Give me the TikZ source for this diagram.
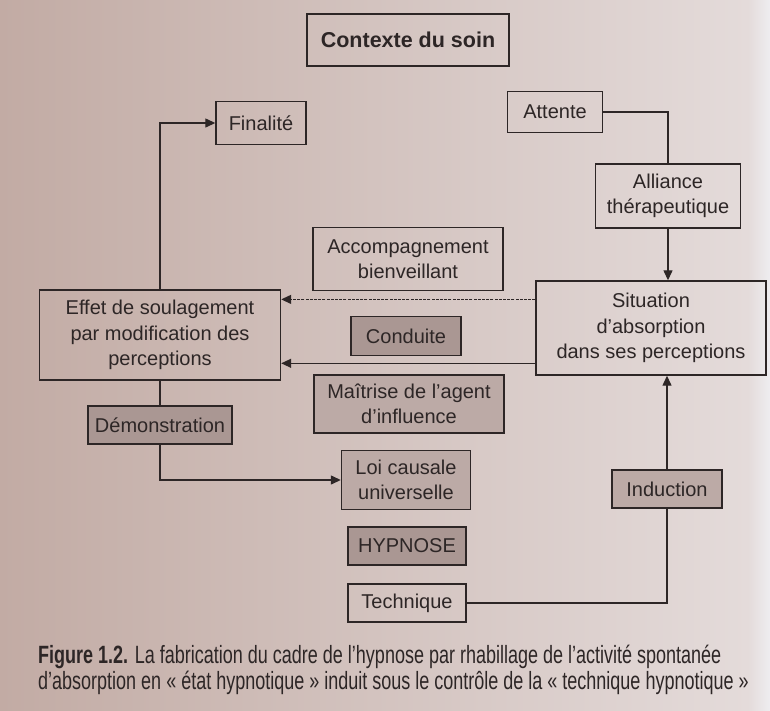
\documentclass[tikz,border=0pt]{standalone}
\usepackage{fontspec}
\setmainfont{Liberation Sans}
\newfontfamily\capfont{Liberation Sans}[FakeStretch=0.72]
\usetikzlibrary{arrows.meta,calc}
\definecolor{ink}{RGB}{45,38,38}
\definecolor{bgl}{RGB}{194,171,164}
\definecolor{bgr}{RGB}{228,219,218}
\definecolor{edge}{RGB}{238,237,240}
\definecolor{grayA}{RGB}{170,151,147}
\definecolor{grayB}{RGB}{188,170,166}
\tikzset{
  box/.style={draw=ink, line width=1.4pt, text=ink, align=center, inner sep=2pt,
    font=\fontsize{20}{25.5}\selectfont},
  dark/.style={box, fill=grayA},
  light/.style={box, fill=grayB},
  link/.style={draw=ink, line width=1.3pt},
  arr/.style={link, -{Triangle[length=10pt,width=9pt]}},
}
\begin{document}
\begin{tikzpicture}[x=1pt,y=-1pt]
\useasboundingbox (0,0) rectangle (770,710);
\shade[left color=bgl, right color=bgr] (0,0) rectangle (748,710);
\shade[left color=bgr, right color=edge] (748,0) rectangle (770,710);

\node[box, font=\fontsize{21.5}{26}\selectfont\bfseries, minimum width=202pt, minimum height=52pt] (ctx) at (408,40) {Contexte du soin};
\node[box, minimum width=90pt, minimum height=43pt] (fin) at (261,123) {Finalité};
\node[box, minimum width=95pt, minimum height=41pt] (att) at (555,112) {Attente};
\node[box, minimum width=145pt, minimum height=64pt] (all) at (668,196) {Alliance\\thérapeutique};
\node[box, minimum width=190pt, minimum height=63pt] (acc) at (408,259) {Accompagnement\\bienveillant};
\node[box, minimum width=241pt, minimum height=90pt] (eff) at (160,335) {Effet de soulagement\\par modification des\\perceptions};
\node[box, minimum width=230pt, minimum height=94pt] (sit) at (651,328) {Situation\\d’absorption\\dans ses perceptions};
\node[dark, minimum width=110pt, minimum height=39pt] (con) at (406,336) {Conduite};
\node[light, minimum width=190pt, minimum height=58pt] (mai) at (409,404) {Maîtrise de l’agent\\d’influence};
\node[dark, minimum width=144pt, minimum height=38pt] (dem) at (160,425) {Démonstration};
\node[light, minimum width=129pt, minimum height=59pt] (loi) at (406,480) {Loi causale\\universelle};
\node[light, minimum width=110pt, minimum height=38pt] (ind) at (667,489) {Induction};
\node[dark, minimum width=118pt, minimum height=38pt] (hyp) at (407,546) {HYPNOSE};
\node[box, minimum width=118pt, minimum height=38pt] (tec) at (407,603) {Technique};

% connectors
\draw[arr] (eff.north) |- (fin.west);
\draw[link] (att.east) -| (all.north);
\draw[arr] (all.south) -- (all.south |- sit.north);
\coordinate (s1) at ($(sit.north west)!0.2!(sit.south west)$);
\coordinate (s2) at ($(sit.north west)!0.87!(sit.south west)$);
\draw[arr, dash pattern=on 3pt off 1.2pt] (s1) -- (eff.east |- s1);
\draw[arr] (s2) -- (eff.east |- s2);
\draw[link] (eff.south) -- (dem.north);
\draw[arr] (dem.south) |- (loi.west);
\draw[link] (tec.east) -| (ind.south);
\draw[arr] (ind.north) -- (ind.north |- sit.south);

% caption
\node[anchor=base west, inner sep=0pt, text=ink, font=\capfont\fontsize{25}{28}\selectfont] (cap1) at (38,663)
  {\textbf{Figure 1.2.} La fabrication du cadre de l’hypnose par rhabillage de l’activité spontanée};
\node[anchor=base west, inner sep=0pt, text=ink, font=\capfont\fontsize{25}{28}\selectfont] (cap2) at (38,689)
  {d’absorption en «~état hypnotique~» induit sous le contrôle de la «~technique hypnotique~»};
\end{tikzpicture}
\end{document}
